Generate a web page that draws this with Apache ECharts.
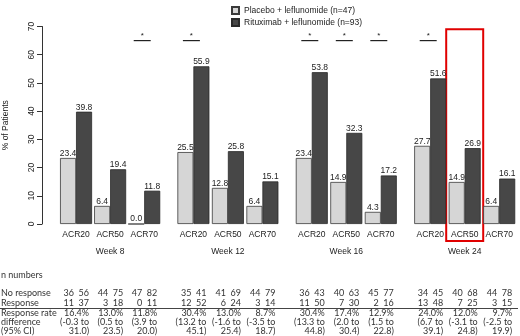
<!DOCTYPE html>
<html>
<head>
<meta charset="utf-8">
<script src="https://cdn.jsdelivr.net/npm/echarts@6/dist/echarts.min.js"></script>
<style>
  html, body { margin: 0; padding: 0; background: #fff; }
  #main { width: 520px; height: 336px; }
</style>
</head>
<body>
<div id="main"></div>
<script>
// chart data
const weeks = ['Week 8', 'Week 12', 'Week 16', 'Week 24'];
const endpoints = ['ACR20', 'ACR50', 'ACR70'];
const placebo = [[23.4, 6.4, 0.0], [25.5, 12.8, 6.4], [23.4, 14.9, 4.3], [27.7, 14.9, 6.4]];
const rituximab = [[39.8, 19.4, 11.8], [55.9, 25.8, 15.1], [53.8, 32.3, 17.2], [51.6, 26.9, 16.1]];
const significant = [['ACR70'], ['ACR20'], ['ACR20', 'ACR50', 'ACR70'], ['ACR20']];
const seriesNames = ['Placebo + leflunomide (n=47)', 'Rituximab + leflunomide (n=93)'];
const highlight = { week: 3, endpoint: 'ACR50' };

// table under the chart (12 columns: week x endpoint)
const rowLabels = ['n numbers', 'No response', 'Response', 'Response rate', 'difference', '(95% CI)'];
const noResponse = [[36, 56], [44, 75], [47, 82], [35, 41], [41, 69], [44, 79], [36, 43], [40, 63], [45, 77], [34, 45], [40, 68], [44, 78]];
const response = [[11, 37], [3, 18], [0, 11], [12, 52], [6, 24], [3, 14], [11, 50], [7, 30], [2, 16], [13, 48], [7, 25], [3, 15]];
const rateDiff = ['16.4%', '13.0%', '11.8%', '30.4%', '13.0%', '8.7%', '30.4%', '17.4%', '12.9%', '24.0%', '12.0%', '9.7%'];
const ciLow = ['-0.3', '0.5', '3.9', '13.2', '-1.6', '-3.5', '13.3', '2.0', '1.5', '6.7', '-3.1', '-2.5'];
const ciHigh = ['31.0', '23.5', '20.0', '45.1', '25.4', '18.7', '44.8', '30.4', '22.8', '39.1', '24.8', '19.9'];

const chartFont = 'Liberation Sans';
const tableFont = 'Lato';
const gridTop = 26.5;
const gridHeight = 197.5;
const gridLeft = 57.75;
const gridStride = 118.4;
const gridWidth = 103.5;

const chart = echarts.init(document.getElementById('main'));

const grids = [], xAxes = [], yAxes = [], series = [];
weeks.forEach((wk, w) => {
  grids.push({ left: gridLeft + w * gridStride, top: gridTop, width: gridWidth, height: gridHeight });
  xAxes.push({
    type: 'category', gridIndex: w, data: endpoints,
    name: wk, nameLocation: 'middle', nameGap: 23,
    nameTextStyle: { fontFamily: chartFont, fontSize: 8.5, color: '#222' },
    axisLine: { show: false }, axisTick: { show: false },
    axisLabel: { interval: 0, fontFamily: chartFont, fontSize: 8.5, color: '#222', margin: 6 }
  });
  yAxes.push({
    type: 'value', gridIndex: w, min: 0, max: 70, interval: 10,
    show: w === 0, offset: 17,
    name: '% of Patients', nameLocation: 'middle', nameGap: 32, nameRotate: 90,
    nameTextStyle: { fontFamily: chartFont, fontSize: 8.5, color: '#222' },
    axisLine: { show: true, lineStyle: { color: '#333', width: 1 } },
    axisTick: { show: true, inside: false, length: 5, lineStyle: { color: '#333' } },
    axisLabel: { rotate: 90, fontFamily: chartFont, fontSize: 8.5, color: '#222', margin: 6 },
    splitLine: { show: false }
  });
  const lab = {
    show: true, position: 'top', distance: 0,
    fontFamily: chartFont, fontSize: 8.5, color: '#222',
    formatter: p => p.value.toFixed(1)
  };
  series.push({
    name: seriesNames[0], type: 'bar', xAxisIndex: w, yAxisIndex: w,
    data: placebo[w], barWidth: 16, barGap: '0%',
    itemStyle: { color: '#d6d6d6', borderColor: '#3a3a3a', borderWidth: 0.8 },
    label: lab
  });
  series.push({
    name: seriesNames[1], type: 'bar', xAxisIndex: w, yAxisIndex: w,
    data: rituximab[w], barWidth: 16, barGap: '0%',
    itemStyle: { color: '#474747', borderColor: '#2a2a2a', borderWidth: 0.8 },
    label: lab
  });
  // significance markers
  series.push({
    type: 'custom', xAxisIndex: w, yAxisIndex: w, silent: true,
    data: significant[w].map(e => [endpoints.indexOf(e), 65]),
    renderItem: (params, api) => {
      const pt = api.coord([api.value(0), api.value(1)]);
      const cx = pt[0] - 2;
      return {
        type: 'group',
        children: [
          { type: 'line', shape: { x1: cx - 8.5, y1: pt[1], x2: cx + 8.5, y2: pt[1] },
            style: { stroke: '#222', lineWidth: 1.2 } },
          { type: 'text', style: { text: '*', x: cx, y: pt[1] - 1, textAlign: 'center',
            textVerticalAlign: 'bottom', font: '8px ' + chartFont, fill: '#222' } }
        ]
      };
    }
  });
});

chart.setOption({
  animation: false,
  legend: {
    data: seriesNames, orient: 'vertical', left: 226, top: 1,
    icon: 'rect', itemWidth: 7, itemHeight: 7, itemGap: 3,
    textStyle: { fontFamily: chartFont, fontSize: 8.5, color: '#222' }
  },
  grid: grids,
  xAxis: xAxes,
  yAxis: yAxes,
  series: series
});

// red box around the highlighted group and the table below
const graphics = [];
const hb = chart.convertToPixel({ xAxisIndex: highlight.week, yAxisIndex: highlight.week }, [highlight.endpoint, 69]);
graphics.push({
  type: 'rect', shape: { x: hb[0] - 18.5, y: hb[1], width: 37, height: gridTop + gridHeight + 17 - hb[1] },
  style: { fill: 'none', stroke: '#e00000', lineWidth: 2 }
});

const rowY = [275, 293, 303, 313, 322, 331];
const tFont = '9px ' + tableFont;
rowLabels.forEach((t, i) => {
  graphics.push({ type: 'text', style: { text: t, x: 1, y: rowY[i], textAlign: 'left', textVerticalAlign: 'middle', font: tFont, fill: '#333' } });
});
graphics.push({ type: 'line', shape: { x1: 0, y1: 308.5, x2: 518, y2: 308.5 }, style: { stroke: '#444', lineWidth: 1 } });

const cell = (t, x, y) => ({ type: 'text', style: { text: t, x: x, y: y, textAlign: 'right', textVerticalAlign: 'middle', font: tFont, fill: '#333' } });
noResponse.forEach((nr, c) => {
  const w = Math.floor(c / 3), e = c % 3;
  const px = chart.convertToPixel({ xAxisIndex: w }, endpoints[e]);
  const right = px + 13;
  graphics.push(cell(String(nr[0]), right - 15, rowY[1]));
  graphics.push(cell(String(nr[1]), right, rowY[1]));
  graphics.push(cell(String(response[c][0]), right - 15, rowY[2]));
  graphics.push(cell(String(response[c][1]), right, rowY[2]));
  graphics.push(cell(rateDiff[c], right, rowY[3]));
  graphics.push(cell('(' + ciLow[c] + ' to', right, rowY[4]));
  graphics.push(cell(ciHigh[c] + ')', right, rowY[5]));
});

chart.setOption({ graphic: graphics });
</script>
</body>
</html>
